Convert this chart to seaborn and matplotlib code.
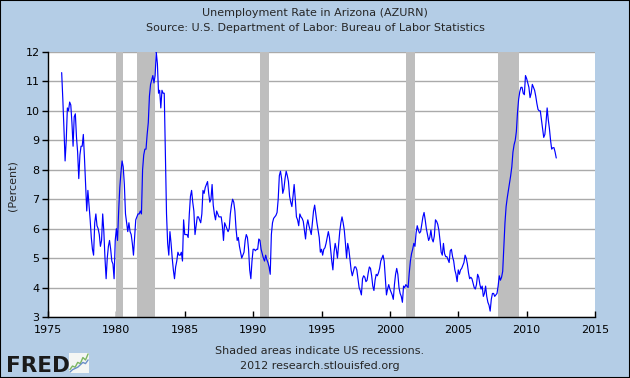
import matplotlib
matplotlib.use("Agg")
import matplotlib.pyplot as plt
import matplotlib.patches as mpatches
import numpy as np
import pandas as pd
import seaborn as sns

# ── data (monthly, not seasonally adjusted) ──────────────────────────────
rate_1976_1979 = [
    11.3, 10.4, 9.4, 8.3, 9.0, 10.1, 10.0, 10.3, 10.2, 9.6, 8.8, 9.8,
    9.9, 9.1, 8.6, 7.7, 8.5, 8.8, 8.8, 9.2, 8.4, 7.5, 6.6, 7.3,
    6.8, 6.3, 5.7, 5.3, 5.1, 6.2, 6.5, 6.1, 6.0, 5.8, 5.4, 5.6,
    6.5, 5.9, 5.0, 4.3, 5.0, 5.4, 5.6, 5.3, 4.9, 4.8, 4.3, 5.6,
]
rate_1980_1989 = [
    6.0, 5.6, 6.6, 7.4, 7.9, 8.3, 8.1, 7.5, 6.5, 6.2, 5.9, 6.2,
    5.9, 5.8, 5.5, 5.1, 5.7, 6.3, 6.4, 6.5, 6.5, 6.6, 6.5, 8.0,
    8.5, 8.7, 8.7, 9.2, 9.6, 10.5, 10.9, 11.05, 11.2, 10.95, 11.2, 12.0,
    11.6, 10.6, 10.7, 10.1, 10.7, 10.6, 10.6, 8.5, 6.5, 5.5, 5.1, 5.9,
    5.5, 5.0, 4.6, 4.3, 4.7, 4.9, 5.2, 5.1, 5.1, 5.2, 4.9, 6.3,
    5.8, 5.8, 5.8, 5.7, 6.5, 7.1, 7.3, 6.9, 6.6, 5.8, 6.1, 6.4,
    6.4, 6.3, 6.2, 6.5, 7.3, 7.2, 7.4, 7.5, 7.6, 7.2, 6.9, 7.0,
    7.5, 6.8, 6.5, 6.3, 6.6, 6.5, 6.4, 6.4, 6.4, 6.1, 5.6, 6.2,
    6.1, 6.0, 5.9, 6.0, 6.5, 6.8, 7.0, 6.9, 6.6, 6.0, 5.6, 5.7,
    5.4, 5.2, 5.0, 5.1, 5.2, 5.6, 5.8, 5.7, 5.3, 4.6, 4.3, 4.9,
]
rate_1990_1999 = [
    5.3, 5.3, 5.25, 5.3, 5.3, 5.65, 5.6, 5.3, 5.15, 5.0, 4.9, 5.1,
    4.95, 4.85, 4.7, 4.45, 5.8, 6.2, 6.35, 6.4, 6.45, 6.55, 7.0, 7.8,
    7.95, 7.7, 7.2, 7.35, 7.7, 7.95, 7.8, 7.6, 7.1, 6.9, 6.75, 7.1,
    7.5, 7.0, 6.4, 6.3, 6.1, 6.5, 6.4, 6.35, 6.25, 5.95, 5.65, 6.1,
    6.3, 6.1, 5.95, 5.8, 6.2, 6.6, 6.8, 6.5, 6.2, 5.95, 5.7, 5.2,
    5.3, 5.1, 5.3, 5.35, 5.5, 5.7, 5.9, 5.7, 5.3, 4.9, 4.6, 5.2,
    5.5, 5.3, 5.0, 5.45, 5.9, 6.2, 6.4, 6.2, 5.95, 5.5, 5.0, 5.5,
    5.3, 4.95, 4.6, 4.4, 4.55, 4.7, 4.7, 4.6, 4.3, 4.0, 3.9, 3.75,
    4.3, 4.4, 4.35, 4.2, 4.25, 4.5, 4.7, 4.65, 4.4, 4.05, 3.9, 4.25,
    4.45, 4.4, 4.5, 4.65, 4.9, 5.0, 5.1, 4.9, 4.3, 3.75, 3.95, 4.1,
]
rate_2000_2009 = [
    3.95, 3.85, 3.75, 3.6, 4.1, 4.45, 4.65, 4.45, 4.0, 3.8, 3.7, 3.5,
    4.05, 4.0, 4.1, 4.05, 4.0, 4.5, 4.9, 5.15, 5.3, 5.5, 5.4, 5.85,
    6.1, 5.95, 5.85, 5.9, 6.15, 6.4, 6.55, 6.3, 6.0, 5.8, 5.6, 5.7,
    5.95, 5.65, 5.55, 5.75, 6.3, 6.25, 6.15, 5.95, 5.6, 5.2, 5.1, 5.5,
    5.15, 5.05, 5.05, 4.95, 4.85, 5.25, 5.3, 5.05, 4.9, 4.6, 4.45, 4.2,
    4.6, 4.45, 4.6, 4.65, 4.75, 4.85, 5.1, 5.0, 4.8, 4.5, 4.3, 4.35,
    4.3, 4.15, 4.0, 3.95, 4.1, 4.45, 4.35, 4.1, 3.95, 4.05, 3.7, 3.8,
    4.05, 3.7, 3.5, 3.4, 3.2, 3.6, 3.8, 3.8, 3.7, 3.75, 3.8, 4.05,
    4.4, 4.25, 4.35, 4.55, 5.4, 6.2, 6.75, 7.05, 7.3, 7.55, 7.8, 8.1,
    8.6, 8.85, 9.0, 9.3, 9.95, 10.4, 10.65, 10.8, 10.8, 10.6, 10.55, 11.2,
]
rate_2010_2012 = [
    11.1, 10.95, 10.8, 10.45, 10.6, 10.9, 10.8, 10.7, 10.5, 10.25, 10.05, 10.0,
    10.0, 9.7, 9.4, 9.1, 9.2, 9.6, 10.1, 9.7, 9.4, 9.0, 8.7, 8.75,
    8.75, 8.6, 8.4,
]
first_year = 1976

# US recessions (start, end) as fractional years
rec_start = [1980.0, 1981.5, 1990.5, 2001.17, 2007.92]
rec_end = [1980.5, 1982.83, 1991.17, 2001.83, 2009.42]

x_ticks = list(range(1975, 2016, 5))
y_ticks = list(range(3, 13))

title_1 = "Unemployment Rate in Arizona (AZURN)"
title_2 = "Source: U.S. Department of Labor: Bureau of Labor Statistics"
foot_1 = "Shaded areas indicate US recessions."
foot_2 = "2012 research.stlouisfed.org"

logo_green = [0.2, 0.35, 0.3, 0.5, 0.45, 0.7, 0.6, 0.85]
logo_blue = [0.1, 0.2, 0.25, 0.3, 0.4, 0.5, 0.45, 0.6]

# ── build frame ──────────────────────────────────────────────────────────
rate = rate_1976_1979 + rate_1980_1989 + rate_1990_1999 + rate_2000_2009 + rate_2010_2012
df = pd.DataFrame({"rate": rate})
df["year"] = first_year + np.arange(len(df)) / 12.0

# ── plot ─────────────────────────────────────────────────────────────────
sns.set_style("white")
plt.rcParams["font.family"] = ["DejaVu Sans"]

BG = "#B4CDE6"
fig = plt.figure(figsize=(6.3, 3.78), dpi=100, facecolor=BG)
ax = fig.add_axes([48 / 630, 1 - 317 / 378, 547 / 630, 265 / 378])
ax.set_facecolor("white")

for s, e in zip(rec_start, rec_end):
    ax.axvspan(s, e, color="#BEBEBE", lw=0, zorder=1)

sns.lineplot(data=df, x="year", y="rate", ax=ax, color="#0000FF",
             lw=0.85, zorder=3)

ax.set_xlim(1975, 2015)
ax.set_ylim(3, 12)
ax.set_xticks(x_ticks)
ax.set_yticks(y_ticks)
ax.set_xlabel("")
ax.set_ylabel("")
ax.set_axisbelow(True)
ax.yaxis.grid(True, color="#AAAAAA", lw=1.0)
ax.xaxis.grid(False)

for side in ["top", "right"]:
    ax.spines[side].set_visible(False)
for side in ["left", "bottom"]:
    ax.spines[side].set_color("black")
    ax.spines[side].set_linewidth(1.0)

ax.tick_params(axis="x", direction="in", length=4, width=1, colors="black",
               labelsize=8, pad=6, bottom=True)
ax.tick_params(axis="y", direction="out", length=4, width=1, colors="black",
               labelsize=8, pad=2, left=True)

fig.text(12 / 630, 0.51, "(Percent)", rotation=90, ha="center", va="center",
         fontsize=8)
fig.text(0.5, 1 - 13 / 378, title_1, ha="center", va="center", fontsize=8)
fig.text(0.5, 1 - 28 / 378, title_2, ha="center", va="center", fontsize=8)
fig.text(320 / 630, 1 - 351 / 378, foot_1, ha="center", va="center", fontsize=8)
fig.text(320 / 630, 1 - 366 / 378, foot_2, ha="center", va="center", fontsize=8)

# FRED logo
fig.text(6 / 630, 1 - 372 / 378, "FRED", ha="left", va="baseline",
         fontsize=15.5, fontweight="bold", color="#1A1A1A")
lax = fig.add_axes([69 / 630, 1 - 373 / 378, 20 / 630, 20 / 378])
lax.set_facecolor("#F4F6F4")
lax.plot(logo_green, color="#7BB661", lw=1)
lax.plot(logo_blue, color="#6A8FC8", lw=1)
lax.set_xticks([])
lax.set_yticks([])
for sp in lax.spines.values():
    sp.set_visible(False)

fig.add_artist(mpatches.Rectangle((0, 0), 1, 1, transform=fig.transFigure,
                                  fill=False, edgecolor="black", lw=1.5))

fig.savefig("out.png", dpi=100, facecolor=BG)
